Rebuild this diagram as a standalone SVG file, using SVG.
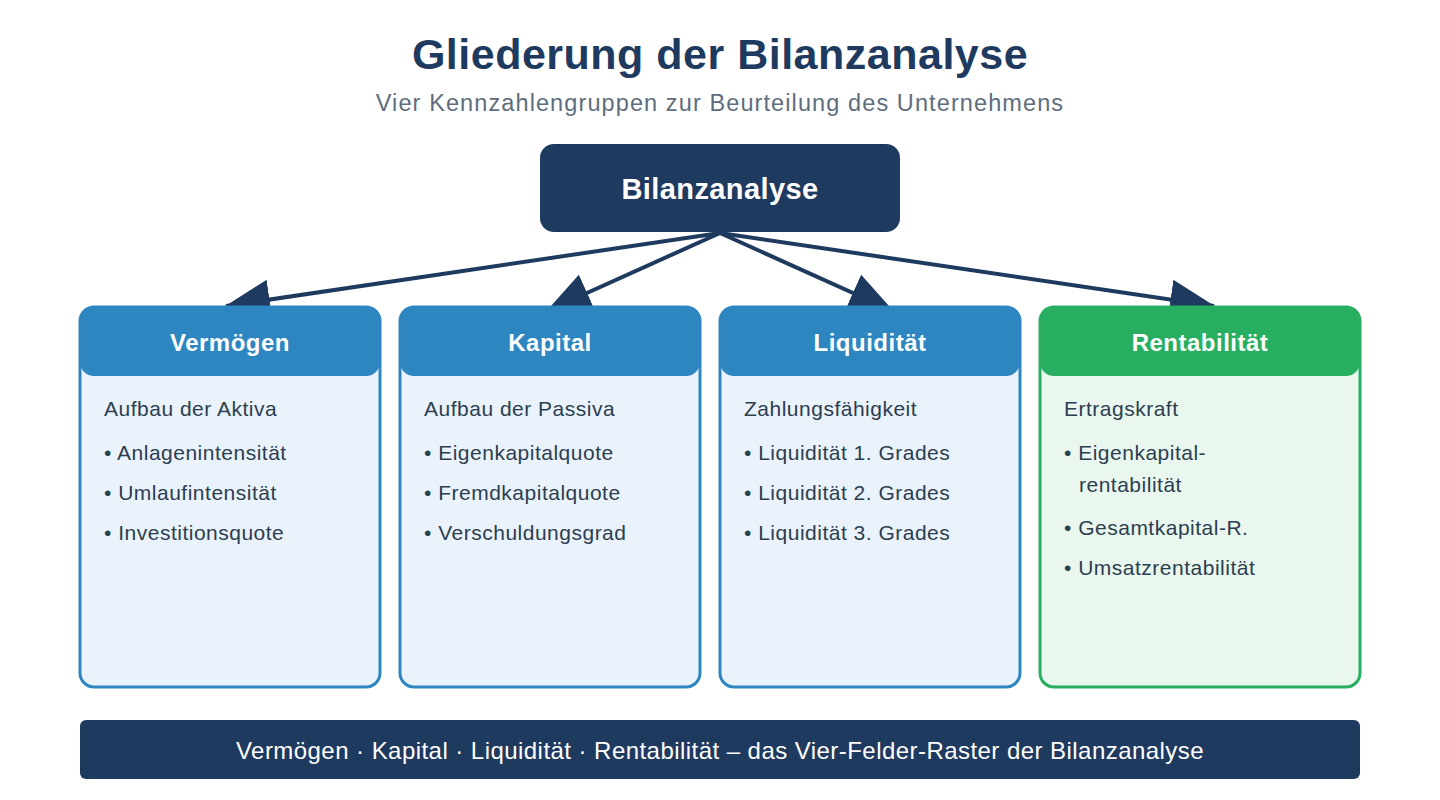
<svg xmlns="http://www.w3.org/2000/svg" width="1440" height="800" viewBox="0 0 1440 800">
<style>
.title{font-family:"Liberation Sans",Arial,sans-serif;font-weight:bold;font-size:43px;letter-spacing:0.5px;fill:#1f3a5f;text-anchor:middle}
.sub{font-family:"Liberation Sans",Arial,sans-serif;font-size:23.5px;letter-spacing:1.1px;fill:#5d6d7e;text-anchor:middle}
.root{font-family:"Liberation Sans",Arial,sans-serif;font-weight:bold;font-size:29px;letter-spacing:0.4px;fill:#fff;text-anchor:middle}
.hd{font-family:"Liberation Sans",Arial,sans-serif;font-weight:bold;font-size:24px;letter-spacing:0.5px;fill:#fff;text-anchor:middle}
.bd{font-family:"Liberation Sans",Arial,sans-serif;font-size:21px;letter-spacing:0.5px;fill:#2c3e50}
.ft{font-family:"Liberation Sans",Arial,sans-serif;font-size:24px;letter-spacing:0.45px;fill:#fff;text-anchor:middle}
.conn{stroke:#1f3a5f;stroke-width:4;fill:none;marker-end:url(#arr)}
.boxB{fill:#eaf2fb;stroke:#2e86c1;stroke-width:3}
.boxG{fill:#e9f7ef;stroke:#27ae60;stroke-width:3}
</style>
<defs>
<marker id="arr" markerUnits="userSpaceOnUse" viewBox="0 0 45 40" refX="44" refY="20" markerWidth="45" markerHeight="40" orient="auto">
<path d="M0,0 L45,20 L0,40 z" fill="#1f3a5f"/>
</marker>
</defs>
<rect width="1440" height="800" fill="#fff"/>
<text class="title" x="720" y="69">Gliederung der Bilanzanalyse</text>
<text class="sub" x="720" y="111">Vier Kennzahlengruppen zur Beurteilung des Unternehmens</text>

<g id="connectors">
<line class="conn" x1="720" y1="233" x2="226" y2="306"/>
<line class="conn" x1="720" y1="233" x2="547" y2="311"/>
<line class="conn" x1="720" y1="233" x2="893" y2="311"/>
<line class="conn" x1="720" y1="233" x2="1214" y2="306"/>
</g>

<g id="root">
<rect x="540" y="144" width="360" height="88" rx="14" fill="#1f3a5f"/>
<text class="root" x="720" y="199">Bilanzanalyse</text>
</g>

<g id="vermoegen">
<rect class="boxB" x="80" y="307" width="300" height="380" rx="14"/>
<path d="M80,321 a14,14 0 0 1 14,-14 h272 a14,14 0 0 1 14,14 v41 a14,14 0 0 1 -14,14 h-272 a14,14 0 0 1 -14,-14 z" fill="#2e86c1"/>
<text class="hd" x="230" y="351">Vermögen</text>
<text class="bd" x="104" y="416">Aufbau der Aktiva</text>
<text class="bd" x="104" y="460">• Anlagenintensität</text>
<text class="bd" x="104" y="500">• Umlaufintensität</text>
<text class="bd" x="104" y="540">• Investitionsquote</text>
</g>

<g id="kapital">
<rect class="boxB" x="400" y="307" width="300" height="380" rx="14"/>
<path d="M400,321 a14,14 0 0 1 14,-14 h272 a14,14 0 0 1 14,14 v41 a14,14 0 0 1 -14,14 h-272 a14,14 0 0 1 -14,-14 z" fill="#2e86c1"/>
<text class="hd" x="550" y="351">Kapital</text>
<text class="bd" x="424" y="416">Aufbau der Passiva</text>
<text class="bd" x="424" y="460">• Eigenkapitalquote</text>
<text class="bd" x="424" y="500">• Fremdkapitalquote</text>
<text class="bd" x="424" y="540">• Verschuldungsgrad</text>
</g>

<g id="liquiditaet">
<rect class="boxB" x="720" y="307" width="300" height="380" rx="14"/>
<path d="M720,321 a14,14 0 0 1 14,-14 h272 a14,14 0 0 1 14,14 v41 a14,14 0 0 1 -14,14 h-272 a14,14 0 0 1 -14,-14 z" fill="#2e86c1"/>
<text class="hd" x="870" y="351">Liquidität</text>
<text class="bd" x="744" y="416">Zahlungsfähigkeit</text>
<text class="bd" x="744" y="460">• Liquidität 1. Grades</text>
<text class="bd" x="744" y="500">• Liquidität 2. Grades</text>
<text class="bd" x="744" y="540">• Liquidität 3. Grades</text>
</g>

<g id="rentabilitaet">
<rect class="boxG" x="1040" y="307" width="320" height="380" rx="14"/>
<path d="M1040,321 a14,14 0 0 1 14,-14 h292 a14,14 0 0 1 14,14 v41 a14,14 0 0 1 -14,14 h-292 a14,14 0 0 1 -14,-14 z" fill="#27ae60"/>
<text class="hd" x="1200" y="351">Rentabilität</text>
<text class="bd" x="1064" y="416">Ertragskraft</text>
<text class="bd" x="1064" y="460">• Eigenkapital-</text>
<text class="bd" x="1079" y="492">rentabilität</text>
<text class="bd" x="1064" y="535">• Gesamtkapital-R.</text>
<text class="bd" x="1064" y="575">• Umsatzrentabilität</text>
</g>

<g id="footer">
<rect x="80" y="720" width="1280" height="59" rx="6" fill="#1f3a5f"/>
<text class="ft" x="720" y="759">Vermögen · Kapital · Liquidität · Rentabilität – das Vier-Felder-Raster der Bilanzanalyse</text>
</g>
</svg>
